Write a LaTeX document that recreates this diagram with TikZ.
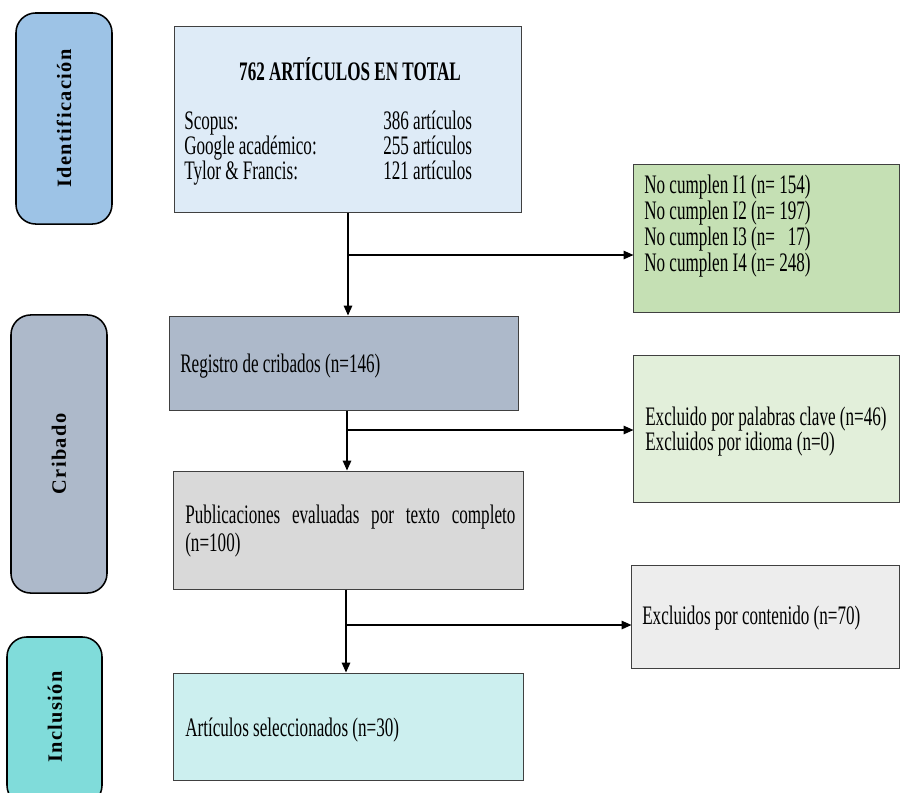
\documentclass[tikz,border=0pt]{standalone}
\usepackage{fontspec}
\usepackage{xcolor}
\usepackage{tikz}
\usetikzlibrary{arrows.meta, positioning, calc}

\setmainfont{Liberation Serif}[FakeStretch=0.64]
\newfontfamily\sidefont{Liberation Serif}[LetterSpace=7]

\definecolor{idblue}{HTML}{9DC3E6}
\definecolor{crgray}{HTML}{ADB9CA}
\definecolor{inteal}{HTML}{80DCDA}
\definecolor{totblue}{HTML}{DEEBF7}
\definecolor{exgreen}{HTML}{C5E0B4}
\definecolor{exlight}{HTML}{E2EFDA}
\definecolor{pubgray}{HTML}{D9D9D9}
\definecolor{exgray}{HTML}{EDEDED}
\definecolor{selcyan}{HTML}{CCEFEF}

\begin{document}
\begin{tikzpicture}[x=0.025cm, y=-0.025cm]
    \tikzstyle{boxed} = [rectangle, draw=black!75, line width=0.7pt, inner sep=0pt]
    \tikzstyle{side} = [rectangle, rounded corners=14pt, draw=black, line width=1.1pt, inner sep=0pt]
    \tikzstyle{sidetxt} = [rotate=90, inner sep=0pt, font=\sidefont\bfseries\fontsize{14.5}{16}\selectfont]
    \tikzstyle{txt} = [anchor=base west, inner sep=0pt, align=left, font=\fontsize{19}{18}\selectfont]
    \tikzstyle{arr} = [-{Triangle[length=7pt,width=6pt]}, line width=1pt]

    \useasboundingbox (0,0) rectangle (901,792);

    % fases
    \node[side, fill=idblue, minimum width=2.4cm, minimum height=5.275cm] (sid1) at (64,118.5) {};
    \node[side, fill=crgray, minimum width=2.4cm, minimum height=6.95cm] (sid2) at (59,454) {};
    \node[side, fill=inteal, minimum width=2.375cm, minimum height=4.2cm] (sid3) at (54.5,721) {};
    \node[sidetxt] (lid) at (sid1.center) {Identificación};
    \node[sidetxt] (lcr) at (sid2.center) {Cribado};
    \node[sidetxt] (lin) at (55,717) {Inclusión};

    % cajas principales
    \node[boxed, fill=totblue, minimum width=8.65cm, minimum height=4.625cm] (total) at (348,119.5) {};
    \node[boxed, fill=crgray, minimum width=8.7cm, minimum height=2.35cm] (cribados) at (344,363) {};
    \node[boxed, fill=pubgray, minimum width=8.725cm, minimum height=2.95cm] (evaluadas) at (348.5,530) {};
    \node[boxed, fill=selcyan, minimum width=8.725cm, minimum height=2.675cm] (selec) at (348.5,726.5) {};

    % cajas de exclusion
    \node[boxed, fill=exgreen, minimum width=6.625cm, minimum height=3.675cm] (excl1) at (766.5,238.5) {};
    \node[boxed, fill=exlight, minimum width=6.625cm, minimum height=3.675cm] (excl2) at (766.5,428.5) {};
    \node[boxed, fill=exgray, minimum width=6.675cm, minimum height=2.575cm] (excl3) at (765.5,616.5) {};

    % textos
    \node[txt, anchor=base, font=\bfseries\fontsize{19}{18}\selectfont] (ttl) at (350,80) {762 ARTÍCULOS EN TOTAL};
    \node[txt] (src1) at (184,129) {Scopus:};
    \node[txt] (src2) at (184,154) {Google académico:};
    \node[txt] (src3) at (184,179) {Tylor \& Francis:};
    \node[txt] (num1) at (383,129) {386 artículos};
    \node[txt] (num2) at (383,154) {255 artículos};
    \node[txt] (num3) at (383,179) {121 artículos};

    \node[txt, anchor=west, font=\fontsize{19}{18.6}\selectfont] (tex1) at (644,226)
        {No cumplen I1 (n= 154)\\No cumplen I2 (n= 197)\\No cumplen I3 (n=\ \phantom{0}17)\\No cumplen I4 (n= 248)};
    \node[txt] (tcr) at (180,372) {Registro de cribados (n=146)};
    \node[txt, anchor=west, font=\fontsize{19}{17.8}\selectfont] (tex2) at (645,432)
        {Excluido por palabras clave (n=46)\\Excluidos por idioma (n=0)};
    \node[txt, anchor=west, text width=8.25cm, align=justify, font=\fontsize{19}{19.8}\selectfont] (tev) at (185,531)
        {Publicaciones evaluadas por texto completo (n=100)};
    \node[txt] (tex3) at (642,624) {Excluidos por contenido (n=70)};
    \node[txt] (tsel) at (185,736) {Artículos seleccionados (n=30)};

    % conectores
    \coordinate (j1) at (348,255);
    \coordinate (j2) at (347,430);
    \coordinate (j3) at (346,625);
    \draw[arr] (total.south -| j1) -- (cribados.north -| j1);
    \draw[arr] (j1) -- (j1 -| excl1.west);
    \draw[arr] (cribados.south -| j2) -- (evaluadas.north -| j2);
    \draw[arr] (j2) -- (j2 -| excl2.west);
    \draw[arr] (evaluadas.south -| j3) -- (selec.north -| j3);
    \draw[arr] (j3) -- (j3 -| excl3.west);
\end{tikzpicture}
\end{document}
